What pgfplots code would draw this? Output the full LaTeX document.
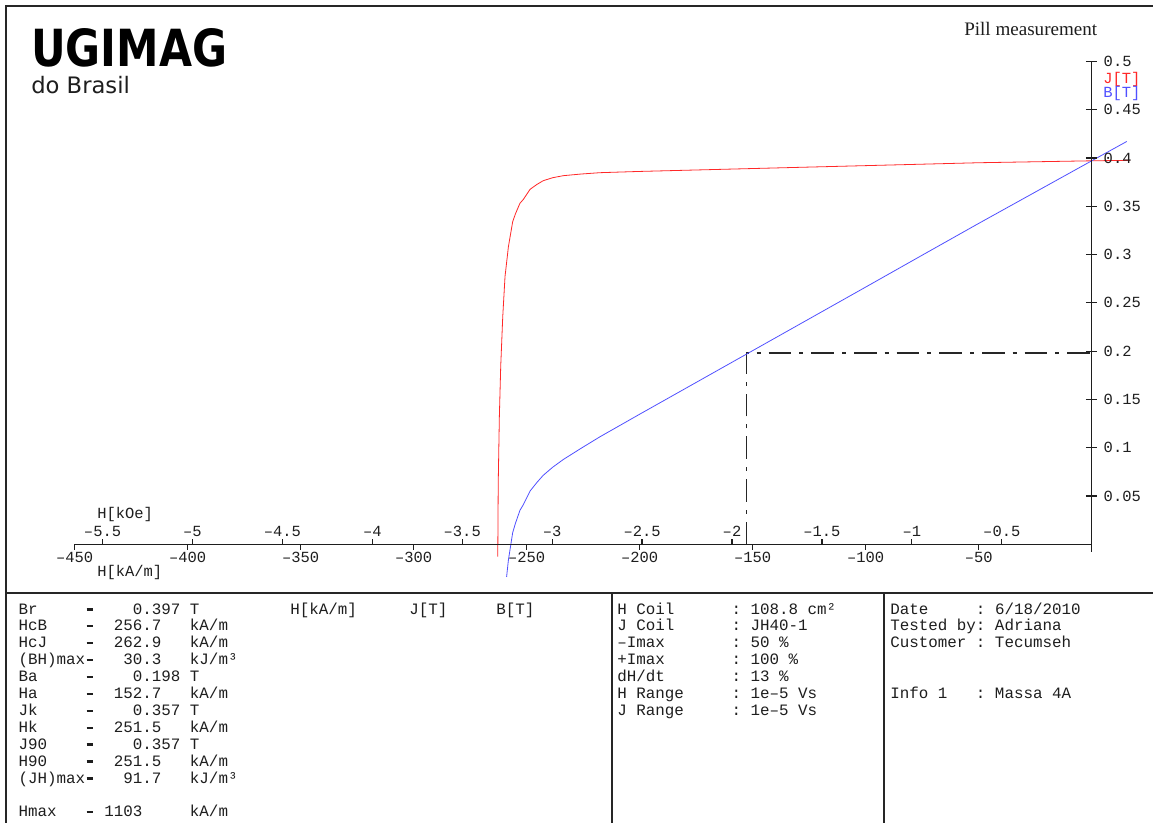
\documentclass[border=0pt]{standalone}
\usepackage{pgfplots}
\pgfplotsset{compat=1.18}
\usepackage{graphicx}
\usepackage{fontspec}
\setmainfont{Liberation Serif}
\setmonofont{Liberation Mono}
\newfontfamily\dejavu{DejaVu Sans}
\newcommand\mono{\ttfamily\fontsize{11.9}{14}\selectfont}
\newcommand\monot{\ttfamily\fontsize{11.6}{14}\selectfont}
\newcommand\dd{\makebox[0.6em][c]{\rule[2.6pt]{5pt}{1.7pt}}}
\definecolor{txt}{RGB}{30,30,30}
\definecolor{jred}{RGB}{255,40,40}
\definecolor{bblue}{RGB}{80,80,255}

\begin{document}
\begin{tikzpicture}
\useasboundingbox (0pt,0pt) rectangle (864.75pt,-616.5pt);
\clip (0pt,0pt) rectangle (864.75pt,-616.5pt);
\fill[white] (0pt,0pt) rectangle (864.75pt,-616.5pt);
\begin{scope}[x=0.75pt,y=-0.75pt]
% frames
\draw[line width=1.5pt, black!85] (6,6) rectangle (1175,845);
\draw[line width=1.5pt, black!85] (6,593) -- (1175,593);
\draw[line width=1.5pt, black!85] (612,593) -- (612,845);
\draw[line width=1.5pt, black!85] (884,593) -- (884,845);
% logo
\node[anchor=base west, inner sep=0] at (31,66) {\scalebox{0.834}[1]{\dejavu\bfseries\fontsize{38.4}{40}\selectfont UGIMAG}};
\node[anchor=base west, inner sep=0, text=txt] at (31,93.8) {\dejavu\fontsize{17}{20}\selectfont do Brasil};
\node[anchor=base west, inner sep=0, text=txt] at (964,35) {\fontsize{14.3}{16}\selectfont Pill measurement};
% axis names
\node[anchor=west, inner sep=0, text=txt] at (97,514) {\monot H[kOe]};
\node[anchor=west, inner sep=0, text=txt] at (97,572) {\monot H[kA/m]};
\node[anchor=west, inner sep=0, text=jred] at (1103,79) {\monot J[T]};
\node[anchor=west, inner sep=0, text=bblue] at (1103,93) {\monot B[T]};
% left panel
\begin{scope}[every node/.style={anchor=base west, inner sep=0, text=txt, font=\mono}]
\node at (18.3,614.0) {Br~~~~~\dd~~~~0.397~T};
\node at (18.3,630.9) {HcB~~~~\dd~~256.7~~~kA/m};
\node at (18.3,647.8) {HcJ~~~~\dd~~262.9~~~kA/m};
\node at (18.3,664.7) {(BH)max\dd~~~30.3~~~kJ/m³};
\node at (18.3,681.6) {Ba~~~~~\dd~~~~0.198~T};
\node at (18.3,698.5) {Ha~~~~~\dd~~152.7~~~kA/m};
\node at (18.3,715.4) {Jk~~~~~\dd~~~~0.357~T};
\node at (18.3,732.3) {Hk~~~~~\dd~~251.5~~~kA/m};
\node at (18.3,749.2) {J90~~~~\dd~~~~0.357~T};
\node at (18.3,766.1) {H90~~~~\dd~~251.5~~~kA/m};
\node at (18.3,783.0) {(JH)max\dd~~~91.7~~~kJ/m³};
\node at (18.3,816.8) {Hmax~~~\dd~1103~~~~~kA/m};
\node at (290,614.0) {H[kA/m]};
\node at (409,614.0) {J[T]};
\node at (496,614.0) {B[T]};
% middle panel
\node at (617,614.0) {H~Coil~~~~~~:~108.8~cm²};
\node at (617,630.9) {J~Coil~~~~~~:~JH40-1};
\node at (617,647.8) {–Imax~~~~~~~:~50~\%};
\node at (617,664.7) {+Imax~~~~~~~:~100~\%};
\node at (617,681.6) {dH/dt~~~~~~~:~13~\%};
\node at (617,698.5) {H~Range~~~~~:~1e–5~Vs};
\node at (617,715.4) {J~Range~~~~~:~1e–5~Vs};
% right panel
\node at (890,614.0) {Date~~~~~:~6/18/2010};
\node at (890,630.9) {Tested~by:~Adriana};
\node at (890,647.8) {Customer~:~Tecumseh};
\node at (890,698.5) {Info~1~~~:~Massa~4A};
\end{scope}
\end{scope}

\newcommand\koe[2]{\draw[line width=0.9pt, txt] (axis cs:#1,0) -- (axis cs:#1,0.00594) node[anchor=south, inner sep=0, yshift=1.2pt, text=txt]{\monot #2};}
\newcommand\kam[2]{\draw[line width=0.9pt, txt] (axis cs:#1,0) -- (axis cs:#1,-0.00594) node[anchor=north, inner sep=0, yshift=-1.5pt, text=txt]{\monot #2};}
\begin{axis}[
  at={(818.775pt,-408.225pt)}, anchor=origin,
  x=1.695pt, y=724.5pt,
  xmin=-450, xmax=0, ymin=-0.0077, ymax=0.5,
  hide axis, clip=false,
]
% guide lines
\addplot[black!85, line width=0.9pt, dash pattern=on 17pt off 6pt on 3pt off 6pt] coordinates {(-152.7,0) (-152.7,0.198) (0,0.198)};
% J curve
\addplot[jred, line width=0.6pt] coordinates {
(-262.8,-0.0128) (-262.6,0.063) (-262.1,0.132) (-261.5,0.184) (-260.6,0.2356)
(-259.6,0.277) (-258.1,0.308) (-256.2,0.334) (-255,0.342) (-253,0.353)
(-251.5,0.357) (-248.5,0.3675) (-245.5,0.3725) (-242.7,0.3764) (-238.5,0.3795)
(-233.8,0.3816) (-226,0.3833) (-217.6,0.3847) (-200,0.386) (-175,0.3875)
(-150,0.389) (-125,0.3905) (-100,0.392) (-75,0.3935) (-50,0.395) (-25,0.396)
(0,0.397) (17,0.3975)};
% B curve
\addplot[bblue, line width=0.6pt] coordinates {
(-258.9,-0.0338) (-258.1,-0.0163) (-256.2,0.0121) (-255,0.0216) (-253,0.0351)
(-251.5,0.0410) (-248.5,0.0552) (-245.5,0.0640) (-242.7,0.0714) (-238.5,0.0798)
(-233.8,0.0878) (-226,0.0993) (-217.6,0.1113) (-200,0.1347) (-175,0.1676)
(-150,0.2005) (-125,0.2334) (-100,0.2663) (-75,0.2993) (-50,0.3322) (-25,0.3646)
(0,0.397) (15.5,0.4170)};
% axis lines
\draw[line width=1.1pt, txt] (axis cs:-450,0) -- (axis cs:0,0);
\draw[line width=1.1pt, txt] (axis cs:0,-0.0077) -- (axis cs:0,0.5);
% kA/m ticks
\kam{-450}{–450}
\kam{-400}{–400}
\kam{-350}{–350}
\kam{-300}{–300}
\kam{-250}{–250}
\kam{-200}{–200}
\kam{-150}{–150}
\kam{-100}{–100}
\kam{-50}{–50}
% kOe ticks
\koe{-437.676}{–5.5}
\koe{-397.887}{–5}
\koe{-358.099}{–4.5}
\koe{-318.310}{–4}
\koe{-278.521}{–3.5}
\koe{-238.732}{–3}
\koe{-198.944}{–2.5}
\koe{-159.155}{–2}
\koe{-119.366}{–1.5}
\koe{-79.577}{–1}
\koe{-39.789}{–0.5}
% y ticks
\pgfplotsinvokeforeach{0.05,0.1,0.15,0.2,0.25,0.3,0.35,0.4,0.45,0.5}{
  \draw[line width=0.9pt, txt] (axis cs:-2.54,#1) -- (axis cs:2.54,#1);
  \node[anchor=west, inner sep=0, text=txt] at (axis cs:5.2,#1) {\monot #1};
}
\end{axis}
\end{tikzpicture}
\end{document}
